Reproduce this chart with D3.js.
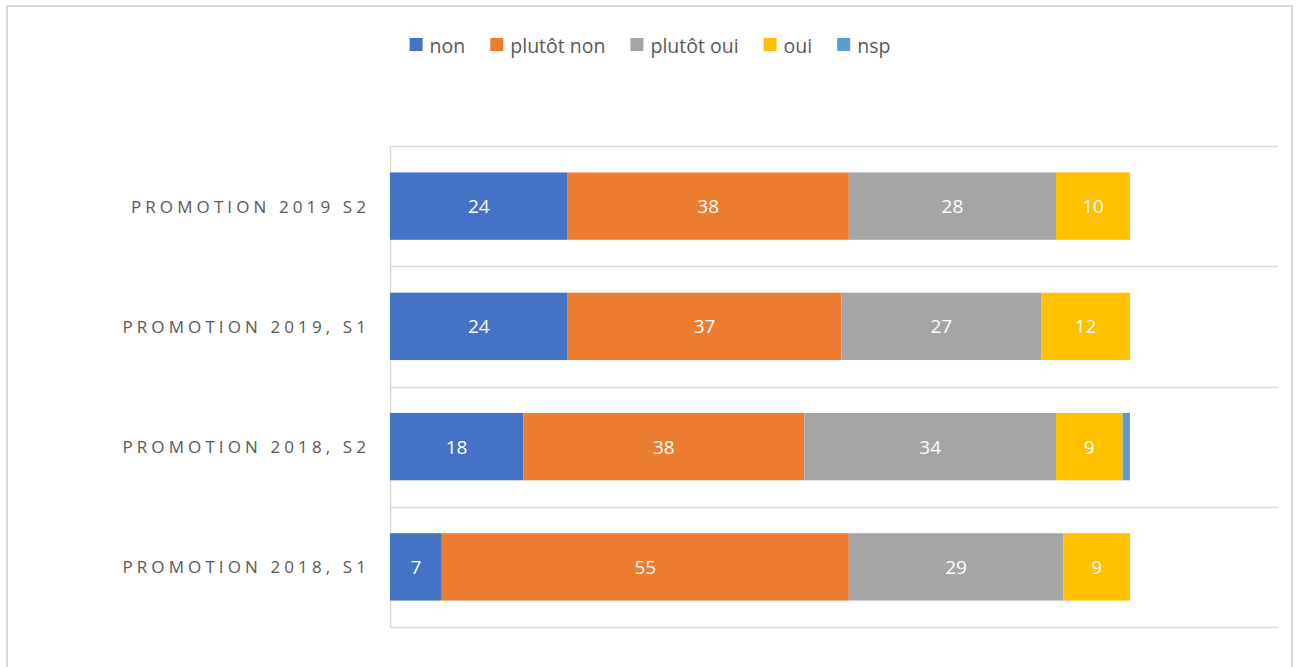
<!DOCTYPE html>
<html>
<head>
<meta charset="utf-8">
<script src="https://cdn.jsdelivr.net/npm/d3@7"></script>
<style>
  html, body { margin: 0; padding: 0; background: #fff; }
  svg { display: block; font-family: "Open Sans", "Liberation Sans", sans-serif; }
</style>
</head>
<body>
<svg id="chart" width="1298" height="667"></svg>
<script>
const categories = ["PROMOTION 2019 S2", "PROMOTION 2019, S1", "PROMOTION 2018, S2", "PROMOTION 2018, S1"];
const seriesNames = ["non", "plutôt non", "plutôt oui", "oui", "nsp"];
const non       = [24, 24, 18, 7];
const plutotNon = [38, 37, 38, 55];
const plutotOui = [28, 27, 34, 29];
const oui       = [10, 12, 9, 9];
const nsp       = [0, 0, 1, 0];
const colors = ["#4472C4", "#ED7D31", "#A5A5A5", "#FFC000", "#5B9BD5"];
const xMax = 120;

const seriesValues = [non, plutotNon, plutotOui, oui, nsp];
const rows = categories.map((c, i) => {
  const r = { cat: c };
  seriesNames.forEach((s, k) => r[s] = seriesValues[k][i]);
  return r;
});
const stacked = d3.stack().keys(seriesNames)(rows);

const svg = d3.select("#chart");

// outer chart border
svg.append("rect").attr("x", 7).attr("y", 6).attr("width", 1285).attr("height", 680)
  .attr("fill", "none").attr("stroke", "#d9d9d9").attr("stroke-width", 2);

const plot = { left: 390, right: 1278, top: 146, bottom: 627 };
const x = d3.scaleLinear().domain([0, xMax]).range([plot.left, plot.right]);
const y = d3.scaleBand().domain(categories).range([plot.top, plot.bottom]).paddingInner(0.44).paddingOuter(0.22);

// gridlines at category boundaries
const bounds = categories.map(c => y(c) - y.step() * y.paddingInner() / 2);
bounds.push(plot.bottom);
svg.append("g").selectAll("line").data(bounds).join("line")
  .attr("x1", plot.left).attr("x2", plot.right)
  .attr("y1", d => Math.round(d) + 0.5).attr("y2", d => Math.round(d) + 0.5)
  .attr("stroke", "#d9d9d9").attr("stroke-width", 1.5);

// vertical axis line
svg.append("line").attr("x1", plot.left + 0.5).attr("x2", plot.left + 0.5)
  .attr("y1", plot.top).attr("y2", plot.bottom)
  .attr("stroke", "#d9d9d9").attr("stroke-width", 1.5);

// category labels
svg.append("g").selectAll("text").data(categories).join("text")
  .attr("x", 370).attr("y", d => y(d) + y.bandwidth() / 2)
  .attr("text-anchor", "end").attr("dominant-baseline", "central")
  .attr("fill", "#595959").attr("font-size", 17).style("letter-spacing", "4.1px")
  .text(d => d);

// bars
const layers = svg.append("g").selectAll("g").data(stacked).join("g")
  .attr("fill", (d, i) => colors[i]);
layers.selectAll("rect").data(d => d.map(v => ({ v, cat: v.data.cat }))).join("rect")
  .attr("x", d => x(d.v[0])).attr("width", d => x(d.v[1]) - x(d.v[0]))
  .attr("y", d => y(d.cat)).attr("height", y.bandwidth());

// data labels
layers.selectAll("text").data((d, i) => d.map(v => ({ v, cat: v.data.cat, val: v[1] - v[0], k: i })).filter(d => d.val >= 2)).join("text")
  .attr("x", d => (x(d.v[0]) + x(d.v[1])) / 2)
  .attr("y", d => y(d.cat) + y.bandwidth() / 2)
  .attr("text-anchor", "middle").attr("dominant-baseline", "central")
  .attr("fill", "#fff").attr("font-size", 19)
  .text(d => d.val);

// legend
const legend = svg.append("g");
const items = legend.selectAll("g").data(seriesNames).join("g");
items.append("rect").attr("width", 13).attr("height", 13).attr("y", 38)
  .attr("fill", (d, i) => colors[i]);
items.append("text").attr("x", 20).attr("y", 45).attr("dominant-baseline", "central")
  .attr("fill", "#595959").attr("font-size", 19.5).text(d => d);
let cur = 0;
const offsets = [];
items.each(function() {
  offsets.push(cur);
  const tw = d3.select(this).select("text").node().getComputedTextLength();
  cur += 20 + tw + 25;
});
const total = cur - 25;
const startX = 650 - total / 2;
items.attr("transform", (d, i) => `translate(${startX + offsets[i]},0)`);
</script>
</body>
</html>
